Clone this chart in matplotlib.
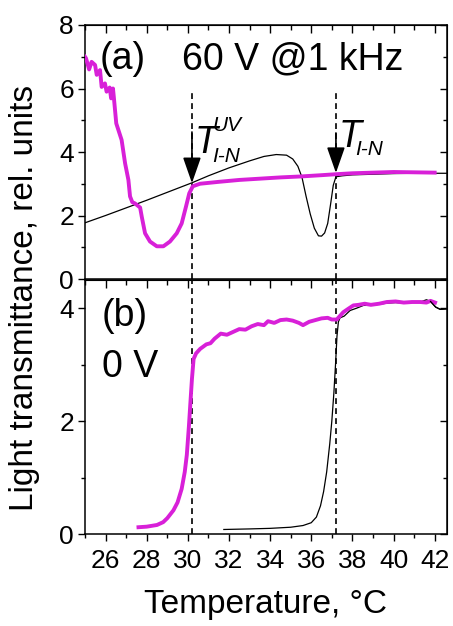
import matplotlib
matplotlib.use("Agg")
import matplotlib.pyplot as plt
from matplotlib.ticker import MultipleLocator

plt.rcParams['font.family'] = ['Liberation Sans', 'DejaVu Sans']

# ---------------- data ----------------
# (a) 60 V @ 1 kHz
mag_a_T = [25.0, 25.05, 25.2, 25.32, 25.49, 25.57, 25.73, 25.81, 25.97, 26.05, 26.2, 26.27,
           26.36, 26.4, 26.52, 26.78, 26.95, 27.11, 27.19, 27.3, 27.43, 27.68, 27.76, 27.92,
           28.16, 28.49, 28.81, 29.13, 29.46, 29.7, 29.91, 30.07, 30.24, 30.59, 31.5, 32.5,
           33.5, 34.5, 35.5, 36.5, 37.2, 38.0, 39.0, 40.0, 41.0, 42.0]
mag_a_I = [7.0, 6.95, 6.6, 6.84, 6.74, 6.43, 6.58, 6.05, 6.16, 5.9, 6.03, 5.69,
           6.0, 5.74, 4.9, 4.38, 3.64, 3.12, 2.6, 2.42, 2.38, 2.25, 1.96, 1.44,
           1.18, 1.03, 1.03, 1.18, 1.44, 1.75, 2.28, 2.7, 2.92, 3.0, 3.06, 3.12,
           3.16, 3.2, 3.23, 3.27, 3.3, 3.33, 3.35, 3.37, 3.36, 3.35]

blk_a_T = [25.0, 26.0, 27.0, 28.0, 29.0, 30.2, 31.0, 32.0, 33.0, 33.7, 34.3, 34.8, 35.1,
           35.35, 35.55, 35.75, 35.95, 36.15, 36.35, 36.5, 36.65, 36.8, 36.95, 37.07, 37.2,
           37.5, 38.0, 39.0, 40.0, 41.0, 42.0, 42.6]
blk_a_I = [1.77, 2.0, 2.24, 2.48, 2.73, 3.03, 3.25, 3.5, 3.72, 3.86, 3.92, 3.9, 3.78,
           3.55, 3.2, 2.6, 2.05, 1.6, 1.36, 1.35, 1.45, 1.75, 2.4, 2.95, 3.22,
           3.25, 3.28, 3.3, 3.32, 3.33, 3.33, 3.33]

# (b) 0 V
mag_b_T = [27.6, 28.0, 28.5, 28.8, 29.0, 29.3, 29.5, 29.7, 29.85, 29.95, 30.05, 30.12, 30.2,
           30.28, 30.4, 30.6, 30.9, 31.1, 31.3, 31.6, 31.9, 32.2, 32.5, 32.8, 33.1, 33.4,
           33.7, 33.9, 34.2, 34.5, 34.8, 35.1, 35.4, 35.6, 35.9, 36.2, 36.5, 36.8, 37.0,
           37.24, 37.56, 37.8, 38.05, 38.3, 38.6, 38.9, 39.3, 39.67, 40.1, 40.5, 40.9,
           41.3, 41.6, 41.8, 42.02]
mag_b_I = [0.12, 0.13, 0.16, 0.21, 0.28, 0.42, 0.56, 0.8, 1.1, 1.4, 1.9, 2.3, 2.75,
           3.1, 3.2, 3.28, 3.36, 3.38, 3.46, 3.55, 3.53, 3.58, 3.63, 3.62, 3.68, 3.72,
           3.7, 3.77, 3.74, 3.79, 3.8, 3.78, 3.74, 3.70, 3.76, 3.79, 3.82, 3.83, 3.8,
           3.8, 3.93, 3.99, 4.05, 4.06, 4.08, 4.06, 4.08, 4.11, 4.12, 4.1, 4.11,
           4.11, 4.1, 4.13, 4.1]

blk_b_T = [31.75, 33.0, 34.0, 35.0, 35.6, 36.0, 36.25, 36.45, 36.6, 36.75, 36.9, 37.0,
           37.1, 37.18, 37.25, 37.32, 37.4, 37.6, 37.89, 38.2, 38.54, 38.9, 39.3, 39.67,
           40.1, 40.5, 40.9, 41.3, 41.6, 41.8, 42.05, 42.27, 42.6]
blk_b_I = [0.08, 0.09, 0.1, 0.12, 0.15, 0.2, 0.3, 0.5, 0.75, 1.1, 1.6, 2.0,
           2.5, 3.0, 3.5, 3.76, 3.83, 3.86, 3.96, 4.0, 4.05, 4.05, 4.07, 4.09,
           4.1, 4.09, 4.11, 4.11, 4.15, 4.12, 4.02, 3.98, 3.99]

T_IN_UV = 30.2
T_IN = 37.2

MAG = '#D820D8'

# ---------------- figure ----------------
W, H = 453, 626
fig = plt.figure(figsize=(W / 100, H / 100), dpi=100)
L, R = 85 / W, 447 / W
axA = fig.add_axes([L, 1 - 279 / H, R - L, 254 / H])
axB = fig.add_axes([L, 1 - 534 / H, R - L, 254 / H])

TICK_FS = 19
for ax in (axA, axB):
    ax.set_xlim(25, 42.6)
    ax.xaxis.set_major_locator(MultipleLocator(2))
    ax.xaxis.set_minor_locator(MultipleLocator(1))
    for s in ax.spines.values():
        s.set_linewidth(1.1)
    ax.tick_params(axis='y', which='both', direction='out', left=True, right=False,
                   labelsize=TICK_FS, width=1.0, pad=3)
    ax.tick_params(axis='y', which='major', length=5)
    ax.tick_params(axis='y', which='minor', length=3)
    # right side inward ticks
    sy = ax.secondary_yaxis('right')
    sy.tick_params(axis='y', which='both', direction='in', labelright=False, width=1.0)
    sy.tick_params(axis='y', which='major', length=5)
    sy.tick_params(axis='y', which='minor', length=3)
    # top inward ticks
    sx = ax.secondary_xaxis('top')
    sx.xaxis.set_major_locator(MultipleLocator(2))
    sx.xaxis.set_minor_locator(MultipleLocator(1))
    sx.tick_params(axis='x', which='both', direction='in', labeltop=False, width=1.0)
    sx.tick_params(axis='x', which='major', length=6)
    sx.tick_params(axis='x', which='minor', length=3.5)
    ax._sy = sy

axA.set_ylim(0, 8)
axA.yaxis.set_major_locator(MultipleLocator(2))
axA.yaxis.set_minor_locator(MultipleLocator(1))
axA._sy.yaxis.set_major_locator(MultipleLocator(2))
axA._sy.yaxis.set_minor_locator(MultipleLocator(1))
axA.tick_params(axis='x', which='both', bottom=False, labelbottom=False)

axB.set_ylim(0, 4.5)
axB.yaxis.set_major_locator(MultipleLocator(2))
axB.yaxis.set_minor_locator(MultipleLocator(1))
axB._sy.yaxis.set_major_locator(MultipleLocator(2))
axB._sy.yaxis.set_minor_locator(MultipleLocator(1))
axB.tick_params(axis='x', which='both', direction='out', labelsize=TICK_FS, width=1.0, pad=6)
axB.tick_params(axis='x', which='major', length=5)
axB.tick_params(axis='x', which='minor', length=3)

# dashed lines
dash = dict(color='black', lw=1.2, linestyle=(0, (3.5, 2.5)))
axA.vlines([T_IN_UV, T_IN], 0, 6, **dash)
axB.vlines([T_IN_UV, T_IN], 0, 4.5, **dash)

# curves
axA.plot(blk_a_T, blk_a_I, color='black', lw=0.9, zorder=3)
axA.plot(mag_a_T, mag_a_I, color=MAG, lw=2.8, zorder=4, solid_joinstyle='round')
axB.plot(blk_b_T, blk_b_I, color='black', lw=0.9, zorder=3)
axB.plot(mag_b_T, mag_b_I, color=MAG, lw=2.8, zorder=4, solid_joinstyle='round')
axB.plot(blk_b_T[-4:], blk_b_I[-4:], color='black', lw=0.9, zorder=5)

# arrows
arr = dict(arrowstyle='-|>,head_length=0.8,head_width=0.28', mutation_scale=20,
           color='black', lw=1.2, shrinkA=0, shrinkB=0)
axA.annotate('', xy=(T_IN_UV, 3.02), xytext=(T_IN_UV, 4.63), arrowprops=arr, zorder=6)
axA.annotate('', xy=(T_IN, 3.34), xytext=(T_IN, 4.6), arrowprops=arr, zorder=6)

# T labels
axA.text(30.35, 3.97, 'T', fontsize=27, style='italic', ha='left', va='baseline')
axA.text(31.2, 3.68, 'I-N', fontsize=15, style='italic', ha='left', va='baseline')
axA.text(31.2, 4.66, 'UV', fontsize=15, style='italic', ha='left', va='baseline')
axA.text(37.35, 4.16, 'T', fontsize=27, style='italic', ha='left', va='baseline')
axA.text(38.15, 3.9, 'I-N', fontsize=15, style='italic', ha='left', va='baseline')

# panel labels
axA.text(25.7, 6.6, '(a)', fontsize=27, ha='left', va='baseline')
axA.text(29.7, 6.6, '60 V @1 kHz', fontsize=27, ha='left', va='baseline')
axB.text(25.8, 3.68, '(b)', fontsize=27, ha='left', va='baseline')
axB.text(25.85, 2.78, '0 V', fontsize=27, ha='left', va='baseline')

# axis labels
fig.text(25 / W, 1 - 298 / H, 'Light transmittance, rel. units', rotation=90,
         fontsize=24, ha='center', va='center')
fig.text((L + R) / 2, 1 - 605 / H, 'Temperature, °C', fontsize=24, ha='center', va='center')

fig.savefig('out.png', dpi=100)
